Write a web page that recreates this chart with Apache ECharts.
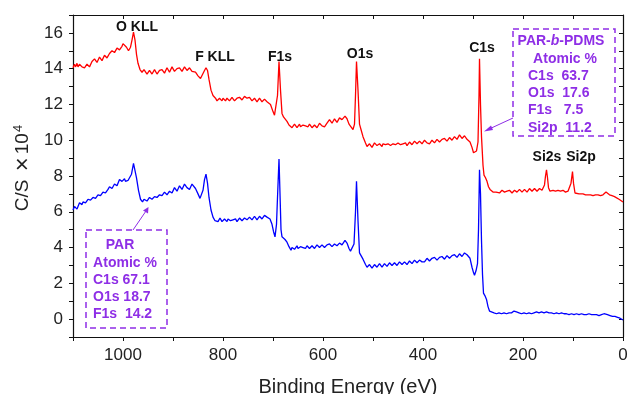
<!DOCTYPE html>
<html>
<head>
<meta charset="utf-8">
<script src="https://cdn.jsdelivr.net/npm/echarts@6/dist/echarts.min.js"></script>
<style>
  html, body { margin: 0; padding: 0; background: #fff; }
  #chart { width: 627px; height: 394px; }
</style>
</head>
<body>
<div id="chart"></div>
<script>
// binding energy (eV), intensity (C/S x 10^4)
const parPdms = [
  [1100,14.05],[1097,14.25],[1095,14.1],[1092,14.3],[1090,14.1],[1087,14.25],[1085,14.3],[1082,14.1],[1080,14.15],[1077,14.05],[1075,14.0],[1072,14.25],[1070,14.2],[1067,14.1],[1065,14.15],
  [1062,14.4],[1060,14.35],[1057,14.55],[1055,14.5],[1052,14.35],[1050,14.45],[1047,14.65],[1045,14.6],[1042,14.45],[1040,14.5],[1037,14.75],[1035,14.7],[1032,14.6],[1030,14.65],[1027,14.85],[1025,14.8],
  [1022,15.0],[1020,14.95],[1017,14.9],[1015,15.0],[1012,15.15],[1010,15.1],[1007,15.05],[1005,15.15],[1002,15.25],[1000,15.4],[997,15.5],[993,15.2],[989,15.0],
  [985,15.2],[982,15.6],[979,16.05],[976,15.6],[973,14.8],[970,14.3],[966,13.95],[962,13.8],
  [958,13.95],[955,13.9],[952,13.7],[950,13.75],[947,13.9],[945,13.85],[942,13.7],[940,13.8],[937,13.95],[935,13.9],[932,13.7],[930,13.75],[927,13.9],[925,13.85],[922,13.95],[920,13.9],
  [917,13.75],[915,13.8],[912,14.05],[910,13.95],[907,13.8],[905,13.85],[902,14.1],[900,14.0],[897,13.85],[895,13.9],[892,14.0],[890,13.95],[887,14.05],[885,14.0],[882,13.85],[880,13.9],
  [877,14.1],[875,14.05],[872,13.9],[870,13.95],[867,14.05],[865,14.0],[862,13.85],[860,13.9],[855,13.8],[850,13.6],[845,13.45],[841,13.5],
  [837,13.9],[834,14.05],[831,13.9],[828,13.4],[824,12.8],[820,12.5],[815,12.35],[812,12.2],[810,12.3],
  [807,12.35],[805,12.25],[802,12.2],[800,12.35],[797,12.3],[795,12.2],[792,12.35],[790,12.3],[787,12.2],[785,12.25],[782,12.4],[780,12.35],[777,12.2],[775,12.3],[772,12.35],[770,12.25],
  [767,12.4],[765,12.35],[762,12.25],[760,12.3],[757,12.45],[755,12.5],[752,12.35],[750,12.3],[747,12.4],[745,12.35],[742,12.2],[740,12.25],[737,12.35],[735,12.3],[732,12.15],[730,12.2],
  [727,12.35],[725,12.3],[722,12.15],[720,12.2],[717,12.3],[715,12.25],[712,12.15],[710,12.2],[705,12.0],[700,11.6],[697,11.4],[694,11.5],
  [691,12.5],[688,14.4],[685,12.8],[682,11.5],[679,11.3],[676,11.2],[672,11.05],[668,10.85],
  [664,10.8],[662,10.7],[660,10.75],[657,10.9],[655,10.85],[652,10.7],[650,10.8],[647,10.9],[645,10.75],[642,10.7],[640,10.85],[637,10.9],[635,10.8],[632,10.7],[630,10.75],
  [627,10.9],[625,10.85],[622,10.7],[620,10.8],[617,10.85],[615,10.75],[612,10.7],[610,10.8],[607,10.95],[605,10.9],[602,10.8],[600,10.85],[597,10.75],[595,10.8],[592,10.95],[590,11.0],
  [587,11.15],[585,11.1],[582,10.95],[580,11.05],[577,11.2],[575,11.15],[572,11.0],[570,11.1],[567,11.25],[565,11.2],[562,11.15],[560,11.25],[556,11.35],[552,11.2],
  [548,10.9],[544,10.75],[540,10.6],[537,10.9],[535,12.5],[533,14.4],[530,12.8],[527,10.9],
  [524,10.6],[520,10.2],[515,9.85],[512,9.65],[510,9.7],[507,9.8],[505,9.75],[502,9.6],[500,9.7],[497,9.85],[495,9.8],[492,9.7],[490,9.75],
  [487,9.8],[485,9.7],[482,9.65],[480,9.8],[477,9.85],[475,9.75],[472,9.7],[470,9.8],[467,9.85],[465,9.7],[462,9.75],[460,9.8],[457,9.85],[455,9.75],[452,9.7],[450,9.85],
  [447,9.9],[445,9.75],[442,9.7],[440,9.8],[437,9.9],[435,9.85],[432,9.7],[430,9.75],[427,9.9],[425,9.85],[422,9.75],[420,9.8],[417,9.95],[415,9.9],[412,9.8],[410,9.85],
  [407,9.95],[405,9.9],[402,9.8],[400,9.85],[397,10.0],[395,9.95],[392,9.85],[390,9.9],[387,9.8],[385,9.85],[382,10.0],[380,9.95],[377,9.85],[375,9.9],[372,10.05],[370,10.0],
  [367,9.9],[365,9.95],[362,10.05],[360,10.0],[357,10.1],[355,10.05],[352,9.95],[350,10.0],[347,10.15],[345,10.1],[342,10.0],[340,10.05],[337,10.2],[335,10.15],[332,10.05],[330,10.1],
  [327,10.3],[325,10.25],[322,10.1],[320,10.15],[317,10.25],[315,10.2],[312,10.05],[310,10.1],[306,9.9],[302,9.6],[299,9.3],[296,9.2],
  [293,9.4],[290,9.9],[288,12.5],[287,14.55],[285,12.0],[283,10.2],[280,8.6],[278,8.05],
  [275,7.9],[272,7.7],[269,7.4],[266,7.25],[262,7.15],[260,7.1],[258,7.2],[256,7.15],[254,7.1],[252,7.2],[250,7.15],
  [247,7.05],[245,7.1],[242,7.2],[240,7.15],[237,7.1],[235,7.2],[232,7.15],[230,7.1],[227,7.2],[225,7.15],[222,7.05],[220,7.1],[217,7.2],[215,7.15],[212,7.1],[210,7.2],
  [207,7.25],[205,7.15],[202,7.1],[200,7.2],[197,7.25],[195,7.15],[192,7.1],[190,7.2],[187,7.3],[185,7.25],[182,7.15],[180,7.2],[177,7.3],[175,7.25],[172,7.15],[170,7.2],
  [167,7.3],[165,7.25],[162,7.2],[160,7.3],[157,7.5],[155,8.0],[153,8.35],[151,7.9],[149,7.35],[146,7.15],
  [143,7.25],[140,7.2],[137,7.1],[135,7.15],[132,7.25],[130,7.2],[127,7.1],[125,7.15],[122,7.25],[120,7.2],[117,7.15],[115,7.1],[112,7.2],[110,7.15],[106,7.1],
  [104,7.6],[101,8.25],[99,7.6],[96,7.05],[92,7.0],[88,7.0],[84,6.95],[80,7.0],
  [75,6.95],[70,6.95],[65,6.95],[60,6.9],[55,6.95],[50,6.95],[45,6.9],[40,6.95],
  [36,7.05],[34,7.1],[31,7.0],[27,6.95],[22,6.9],[17,6.85],[13,6.75],[8,6.7],[4,6.6],[0,6.55]
];

const par = [
  [1100,6.1],[1097,6.3],[1095,6.2],[1092,6.15],[1090,6.3],[1087,6.5],[1085,6.45],[1082,6.4],[1080,6.55],[1077,6.6],[1075,6.5],[1072,6.55],[1070,6.7],[1067,6.75],[1065,6.65],
  [1062,6.7],[1060,6.8],[1057,6.9],[1055,6.75],[1052,6.8],[1050,6.95],[1047,7.05],[1045,6.9],[1042,6.95],[1040,7.1],[1037,7.2],[1035,7.05],[1032,7.15],[1030,7.25],[1027,7.4],[1025,7.35],
  [1022,7.3],[1020,7.4],[1017,7.55],[1015,7.5],[1012,7.45],[1010,7.6],[1007,7.8],[1005,7.75],[1002,7.7],[1000,7.8],[997,7.85],[995,7.7],[990,7.75],[986,7.65],
  [983,8.1],[979,8.7],[976,8.3],[973,7.9],[969,7.2],[965,6.7],[961,6.55],[958,6.7],[955,6.65],
  [952,6.6],[950,6.7],[947,6.8],[945,6.75],[942,6.7],[940,6.8],[937,6.85],[935,6.75],[932,6.8],[930,6.9],[927,6.95],[925,6.85],[922,6.9],[920,7.0],[917,7.1],[915,7.05],
  [912,6.95],[910,7.0],[907,7.15],[905,7.2],[902,7.05],[900,7.1],[897,7.35],[895,7.3],[892,7.15],[890,7.25],[887,7.45],[885,7.4],[882,7.25],[880,7.35],[877,7.55],[875,7.5],
  [872,7.35],[870,7.45],[867,7.25],[865,7.35],[862,7.55],[860,7.5],[855,7.3],[850,7.0],[846,6.75],[843,6.7],[840,7.2],
  [837,7.8],[834,8.1],[831,7.6],[828,6.8],[824,6.1],[820,5.7],[816,5.5],[814,5.4],[812,5.6],
  [810,5.45],[808,5.5],[806,5.65],[804,5.6],[802,5.45],[800,5.55],[797,5.6],[795,5.5],[792,5.45],[790,5.6],[787,5.65],[785,5.5],[782,5.45],[780,5.55],[777,5.65],[775,5.6],
  [772,5.45],[770,5.5],[767,5.65],[765,5.6],[762,5.5],[760,5.55],[757,5.65],[755,5.7],[752,5.55],[750,5.6],[747,5.7],[745,5.65],[742,5.55],[740,5.6],[737,5.75],[735,5.7],
  [732,5.55],[730,5.6],[727,5.75],[725,5.7],[722,5.6],[720,5.65],[717,5.8],[715,5.75],[712,5.7],[710,5.8],[706,5.6],[702,5.3],[699,4.9],
  [696,4.6],[693,5.3],[691,6.8],[688,8.95],[686,7.0],[684,5.0],[682,4.6],[679,4.5],
  [676,4.45],[672,4.3],[668,4.05],[664,3.85],[662,4.0],[660,3.95],[657,3.9],[655,4.0],[652,4.1],[650,3.95],[647,3.9],[645,4.05],
  [642,4.1],[640,4.0],[637,3.9],[635,3.95],[632,4.1],[630,4.05],[627,3.95],[625,4.0],[622,4.1],[620,4.05],[617,3.95],[615,4.0],[612,4.15],[610,4.1],[607,4.0],[605,4.05],
  [602,4.15],[600,4.1],[597,4.0],[595,4.05],[592,4.15],[590,4.1],[587,4.2],[585,4.15],[582,4.05],[580,4.1],[577,4.2],[575,4.15],[572,4.1],[570,4.2],[567,4.25],[565,4.2],
  [562,4.15],[560,4.25],[556,4.4],[552,4.25],[548,3.95],[545,3.8],[542,3.75],[538,4.2],[535,6.0],
  [533,7.7],[530,5.5],[527,3.7],[524,3.6],[520,3.35],[515,3.05],[512,2.9],[510,2.95],[507,3.05],[505,3.0],
  [502,2.85],[500,2.9],[497,3.05],[495,3.0],[492,2.9],[490,2.95],[487,3.1],[485,3.05],[482,2.9],[480,2.95],[477,3.1],[475,3.05],[472,2.95],[470,3.0],[467,3.15],[465,3.1],
  [462,3.0],[460,3.05],[457,3.15],[455,3.1],[452,3.0],[450,3.05],[447,3.2],[445,3.15],[442,3.05],[440,3.1],[437,3.2],[435,3.15],[432,3.05],[430,3.1],[427,3.25],[425,3.2],
  [422,3.1],[420,3.15],[417,3.3],[415,3.25],[412,3.15],[410,3.2],[407,3.3],[405,3.25],[402,3.2],[400,3.3],[397,3.2],[395,3.25],[392,3.4],[390,3.35],[387,3.25],[385,3.3],
  [382,3.4],[380,3.35],[377,3.45],[375,3.4],[372,3.3],[370,3.35],[367,3.45],[365,3.4],[362,3.5],[360,3.45],[357,3.35],[355,3.4],[352,3.55],[350,3.5],[347,3.4],[345,3.45],
  [342,3.55],[340,3.5],[337,3.6],[335,3.55],[332,3.45],[330,3.5],[327,3.65],[325,3.6],[322,3.5],[320,3.55],[317,3.7],[315,3.65],[312,3.6],[310,3.7],[306,3.4],
  [302,2.9],[299,2.6],[297,2.45],[294,2.7],[291,3.1],[289,5.0],[287,8.35],[285,7.0],
  [283,4.4],[281,2.5],[279,1.45],[276,1.3],[273,1.1],[270,0.7],[267,0.45],[263,0.35],
  [258,0.35],[253,0.3],[248,0.35],[243,0.3],[238,0.35],[233,0.3],[228,0.35],[223,0.35],
  [218,0.45],[213,0.4],[208,0.35],[203,0.3],[198,0.35],[193,0.3],[188,0.35],[183,0.3],
  [178,0.35],[173,0.4],[168,0.35],[163,0.4],[158,0.35],[153,0.4],[148,0.35],[143,0.35],
  [138,0.3],[133,0.35],[128,0.3],[123,0.35],[118,0.3],[113,0.3],[108,0.25],[103,0.3],
  [98,0.25],[93,0.3],[88,0.25],[83,0.3],[78,0.25],[73,0.25],[68,0.3],[63,0.25],
  [58,0.25],[53,0.25],[48,0.2],[43,0.25],[38,0.3],[34,0.35],[31,0.25],[26,0.2],
  [21,0.15],[16,0.15],[11,0.1],[6,0.05],[0,-0.05]
];

const peakLabels = [
  { text: 'O KLL', x: 137, y: 27 },
  { text: 'F KLL', x: 215, y: 57 },
  { text: 'F1s', x: 280, y: 57 },
  { text: 'O1s', x: 360, y: 54 },
  { text: 'C1s', x: 482, y: 48 },
  { text: 'Si2s', x: 547, y: 157 },
  { text: 'Si2p', x: 581, y: 157 }
];
const pdmsLines = ['C1s  63.7', 'O1s  17.6', 'F1s   7.5', 'Si2p  11.2'];
const parLines = ['C1s 67.1', 'O1s 18.7', 'F1s  14.2'];

const purple = '#8e2ee6';
const font = '"Liberation Sans", Arial, sans-serif';

const chart = echarts.init(document.getElementById('chart'));

const graphics = [];
peakLabels.forEach(p => {
  graphics.push({
    type: 'text', x: p.x, y: p.y,
    style: { text: p.text, font: 'bold 14px ' + font, fill: '#111', align: 'center', verticalAlign: 'middle' }
  });
});
// PAR-b-PDMS box
graphics.push({
  type: 'rect', shape: { x: 513, y: 29, width: 102, height: 107 },
  style: { fill: 'none', stroke: purple, lineWidth: 1.5, lineDash: [6, 4] }
});
graphics.push({
  type: 'text', x: 561, y: 41,
  style: {
    text: '{n|PAR-}{i|b}{n|-PDMS}', align: 'center', verticalAlign: 'middle',
    rich: {
      n: { font: 'bold 14px ' + font, fill: purple },
      i: { font: 'italic bold 14px ' + font, fill: purple }
    }
  }
});
graphics.push({
  type: 'text', x: 565, y: 59,
  style: { text: 'Atomic %', font: 'bold 14px ' + font, fill: purple, align: 'center', verticalAlign: 'middle' }
});
pdmsLines.forEach((t, i) => {
  graphics.push({
    type: 'text', x: 528, y: 76 + i * 17.3,
    style: { text: t, font: 'bold 14px ' + font, fill: purple, align: 'left', verticalAlign: 'middle' }
  });
});
graphics.push({
  type: 'line', shape: { x1: 513, y1: 118, x2: 487, y2: 130 },
  style: { stroke: purple, lineWidth: 1 }
});
graphics.push({
  type: 'polygon', shape: { points: [[484, 131.5], [491, 125.5], [493, 130]] },
  style: { fill: purple }
});
// PAR box
graphics.push({
  type: 'rect', shape: { x: 86, y: 230, width: 81, height: 98 },
  style: { fill: 'none', stroke: purple, lineWidth: 1.5, lineDash: [6, 4] }
});
graphics.push({
  type: 'text', x: 120, y: 245,
  style: { text: 'PAR', font: 'bold 14px ' + font, fill: purple, align: 'center', verticalAlign: 'middle' }
});
graphics.push({
  type: 'text', x: 125, y: 263,
  style: { text: 'Atomic %', font: 'bold 14px ' + font, fill: purple, align: 'center', verticalAlign: 'middle' }
});
parLines.forEach((t, i) => {
  graphics.push({
    type: 'text', x: 93, y: 280 + i * 17,
    style: { text: t, font: 'bold 14px ' + font, fill: purple, align: 'left', verticalAlign: 'middle' }
  });
});
graphics.push({
  type: 'line', shape: { x1: 133, y1: 230, x2: 146, y2: 211 },
  style: { stroke: purple, lineWidth: 1 }
});
graphics.push({
  type: 'polygon', shape: { points: [[148.5, 207], [143, 210.5], [148, 213.5]] },
  style: { fill: purple }
});
// y axis title
graphics.push({
  type: 'text', x: 23, y: 168, rotation: Math.PI / 2,
  style: {
    text: '{a|C/S }{x|\u00d7}{a|10}{s|4}', align: 'center', verticalAlign: 'middle',
    rich: {
      a: { font: '19px ' + font, fill: '#222' },
      x: { font: '24px ' + font, fill: '#222', padding: [0, 3, 0, 3] },
      s: { font: '13px ' + font, fill: '#222', padding: [0, 0, 10, 1] }
    }
  }
});

const axisColor = '#111';
chart.setOption({
  animation: false,
  backgroundColor: '#fff',
  grid: { left: 73, right: 4, top: 15, bottom: 57, outerBoundsMode: 'none', containLabel: false },
  xAxis: [
    {
      type: 'value', min: 0, max: 1100, interval: 100, inverse: true,
      name: 'Binding Energy (eV)', nameLocation: 'middle', nameGap: 40,
      nameTextStyle: { fontFamily: font, fontSize: 20, color: '#222' },
      axisLine: { show: true, onZero: false, lineStyle: { color: axisColor, width: 1.2 } },
      axisTick: { show: true, inside: false, length: 4, lineStyle: { color: axisColor } },
      axisLabel: {
        fontFamily: font, fontSize: 17, color: '#222', margin: 10,
        formatter: v => (v % 200 === 0 ? String(v) : '')
      },
      splitLine: { show: false }
    },
    {
      type: 'value', min: 0, max: 1100, interval: 100, inverse: true, position: 'top',
      axisLine: { show: true, onZero: false, lineStyle: { color: axisColor, width: 1.2 } },
      axisTick: { show: true, inside: true, length: 4, lineStyle: { color: axisColor } },
      axisLabel: { show: false },
      splitLine: { show: false }
    }
  ],
  yAxis: [
    {
      type: 'value', min: -1, max: 17, interval: 1,
      axisLine: { show: true, onZero: false, lineStyle: { color: axisColor, width: 1.2 } },
      axisTick: { show: true, inside: false, length: 4, lineStyle: { color: axisColor } },
      axisLabel: {
        fontFamily: font, fontSize: 17, color: '#222', margin: 10,
        formatter: v => (v >= 0 && v % 2 === 0 ? String(v) : '')
      },
      splitLine: { show: false }
    },
    {
      type: 'value', min: -1, max: 17, interval: 1, position: 'right',
      axisLine: { show: true, onZero: false, lineStyle: { color: axisColor, width: 1.2 } },
      axisTick: { show: true, inside: true, length: 4, lineStyle: { color: axisColor } },
      axisLabel: { show: false },
      splitLine: { show: false }
    }
  ],
  series: [
    {
      name: 'PAR-b-PDMS', type: 'line', data: parPdms, showSymbol: false, smooth: false,
      lineStyle: { color: '#ff0000', width: 1.3 }, itemStyle: { color: '#ff0000' }
    },
    {
      name: 'PAR', type: 'line', data: par, showSymbol: false, smooth: false,
      lineStyle: { color: '#0000ff', width: 1.3 }, itemStyle: { color: '#0000ff' }
    }
  ],
  graphic: graphics
});
</script>
</body>
</html>
